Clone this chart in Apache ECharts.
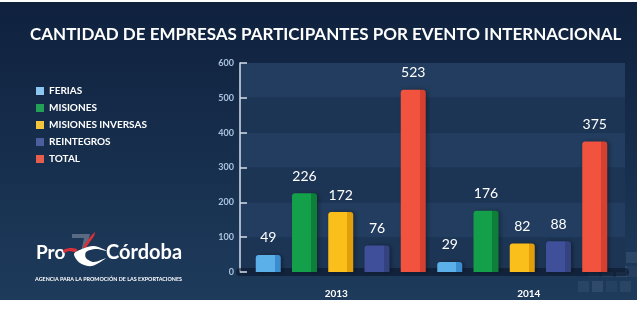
<!DOCTYPE html>
<html>
<head>
<meta charset="utf-8">
<script src="https://cdn.jsdelivr.net/npm/echarts@6/dist/echarts.min.js"></script>
<style>
html,body{margin:0;padding:0;background:#fff;}
#c{width:641px;height:324px;}
</style>
</head>
<body>
<div id="c"></div>
<script>
const categories = ['2013', '2014'];
const ferias = [49, 29];
const misiones = [226, 176];
const misionesInversas = [172, 82];
const reintegros = [76, 88];
const total = [523, 375];
const yTicks = [0, 100, 200, 300, 400, 500, 600];

const seriesDefs = [
  { name: 'FERIAS', data: ferias, face: '#5cb0ea', side: '#3b8dd0', legend: '#8cc6f0' },
  { name: 'MISIONES', data: misiones, face: '#14a04a', side: '#0d7f39', legend: '#22a055' },
  { name: 'MISIONES INVERSAS', data: misionesInversas, face: '#fbbf1c', side: '#e19e0b', legend: '#f3c63b' },
  { name: 'REINTEGROS', data: reintegros, face: '#3f4f99', side: '#34427f', legend: '#4b5f9f' },
  { name: 'TOTAL', data: total, face: '#f2533f', side: '#d64030', legend: '#e55f4c' }
];

const chart = echarts.init(document.getElementById('c'), null, { renderer: 'canvas' });
const FONT = 'Lato';

const globeCells = [];
[[600, 252], [614, 252], [626, 252], [588, 266], [602, 266], [616, 266], [626, 266], [578, 281], [592, 281], [606, 281], [620, 281]].forEach((p, i) => {
  globeCells.push({
    type: 'rect', silent: true, z: -5,
    shape: { x: p[0], y: p[1], width: 11, height: 11 },
    style: { fill: 'rgba(190,205,225,' + (0.05 + (i % 3) * 0.03) + ')' }
  });
});

const option = {
  backgroundColor: '#ffffff',
  animation: false,
  graphic: [
    {
      type: 'rect', z: -10, silent: true,
      shape: { x: 0, y: 2, width: 637, height: 298 },
      style: {
        fill: new echarts.graphic.LinearGradient(0, 0, 0, 1, [
          { offset: 0, color: '#0f213d' },
          { offset: 1, color: '#1e3b5c' }
        ])
      }
    },
    ...globeCells,
    {
      type: 'text', x: 30, y: 26,
      style: { text: 'CANTIDAD DE EMPRESAS PARTICIPANTES POR EVENTO INTERNACIONAL', fill: '#ffffff', font: 'bold 17px ' + FONT }
    },
    {
      type: 'text', x: 36, y: 243,
      style: { text: 'Pro', fill: '#ffffff', font: 'bold 19px ' + FONT }
    },
    {
      type: 'text', x: 106, y: 243,
      style: { text: 'Córdoba', fill: '#ffffff', font: 'bold 20px ' + FONT }
    },
    {
      type: 'polygon', silent: true,
      shape: { points: [[72, 234], [90, 234], [83, 262], [79, 262], [84, 238], [72, 238]] },
      style: { fill: 'rgba(150,160,175,0.5)' }
    },
    {
      type: 'polygon', silent: true,
      shape: { points: [[83, 247], [91, 236], [95, 232], [94, 236], [87, 246], [85, 249]], smooth: 0.2 },
      style: { fill: '#d8303a' }
    },
    {
      type: 'polygon', silent: true,
      shape: { points: [[63, 250], [70, 248], [77, 249], [76, 252], [69, 251], [64, 253]], smooth: 0.2 },
      style: { fill: '#d8303a' }
    },
    {
      type: 'polygon', silent: true,
      shape: { points: [[74, 254], [80, 263], [92, 266], [106, 258], [94, 262], [86, 258], [86, 252], [96, 249], [107, 251], [94, 246], [82, 249]], smooth: 0.3 },
      style: { fill: '#ffffff' }
    },
    {
      type: 'text', x: 35, y: 277,
      style: { text: 'AGENCIA PARA LA PROMOCIÓN DE LAS EXPORTACIONES', fill: '#ffffff', font: 'bold 5.4px ' + FONT }
    }
  ],
  legend: {
    orient: 'vertical',
    left: 31, top: 81,
    itemWidth: 8, itemHeight: 8, itemGap: 7,
    icon: 'rect',
    textStyle: { color: '#ffffff', fontSize: 10, fontFamily: FONT, fontWeight: 'bold' },
    data: seriesDefs.map(s => ({ name: s.name, itemStyle: { color: s.legend } }))
  },
  grid: [
    { left: 240, right: 16, top: 63, bottom: 52 },
    { left: 250, width: 363, top: 63, bottom: 52 }
  ],
  xAxis: [
    {
      type: 'category', gridIndex: 0, data: categories,
      offset: 4,
      axisLine: { show: true, lineStyle: { color: 'rgba(8,18,36,0.55)', width: 8 } },
      axisTick: { show: false },
      axisLabel: { color: '#ffffff', fontSize: 10, fontFamily: FONT, fontWeight: 'bold', margin: 13 }
    },
    {
      type: 'category', gridIndex: 1, data: categories,
      axisLine: { show: false }, axisTick: { show: false }, axisLabel: { show: false }
    }
  ],
  yAxis: [
    {
      type: 'value', gridIndex: 0, min: 0, max: 600, interval: 100,
      axisLine: { show: true, lineStyle: { color: '#d5e0ec', width: 1.5 } },
      axisTick: { show: true, inside: true, length: 7, lineStyle: { color: '#d5e0ec', width: 1.5 } },
      axisLabel: {
        color: '#a9c3de', fontSize: 9, fontFamily: FONT, fontWeight: 'bold', margin: 6,
        formatter: v => (yTicks.indexOf(v) >= 0 ? String(v) : '')
      },
      splitLine: { show: false },
      splitArea: { show: true, areaStyle: { color: ['#1d3555', '#223d5f'] } }
    },
    {
      type: 'value', gridIndex: 1, min: 0, max: 600, interval: 100,
      axisLine: { show: false }, axisTick: { show: false }, axisLabel: { show: false },
      splitLine: { show: false }
    }
  ],
  series: seriesDefs.map(s => ({
    name: s.name,
    type: 'bar',
    xAxisIndex: 1, yAxisIndex: 1,
    data: s.data,
    barWidth: 25,
    barGap: '45%',
    itemStyle: {
      color: new echarts.graphic.LinearGradient(0, 0, 1, 0, [
        { offset: 0, color: s.face },
        { offset: 0.76, color: s.face },
        { offset: 0.76, color: s.side },
        { offset: 1, color: s.side }
      ]),
      borderRadius: [3, 3, 0, 0],
      shadowColor: 'rgba(0,0,0,0.35)', shadowBlur: 4, shadowOffsetX: 2
    },
    label: {
      show: true, position: 'top', distance: 10,
      color: '#ffffff', fontSize: 14, fontFamily: FONT
    }
  }))
};
chart.setOption(option);
</script>
</body>
</html>
